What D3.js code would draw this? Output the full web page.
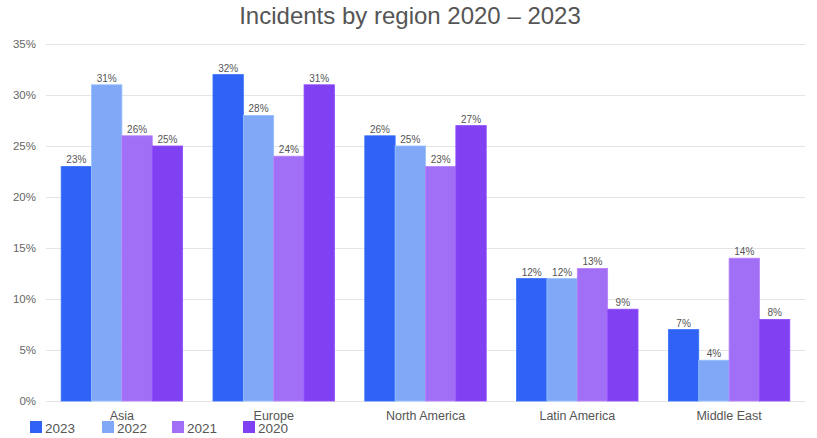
<!DOCTYPE html>
<html><head><meta charset="utf-8">
<script src="https://cdn.jsdelivr.net/npm/d3@7"></script>
<style>body{margin:0;background:#fff;}svg{display:block;font-family:"Liberation Sans",Arial,sans-serif;}</style>
</head><body>
<svg id="chart" width="817" height="438"></svg>
<script>
const regions = ["Asia", "Europe", "North America", "Latin America", "Middle East"];
const seriesNames = ["2023", "2022", "2021", "2020"];
const colors = ["#2f62f5", "#81a8f6", "#a06ff5", "#7f41f1"];
const v2023 = [23, 32, 26, 12, 7];
const v2022 = [31, 28, 25, 12, 4];
const v2021 = [26, 24, 23, 13, 14];
const v2020 = [25, 31, 27, 9, 8];
const yTicks = [0, 5, 10, 15, 20, 25, 30, 35];
const title = "Incidents by region 2020 \u2013 2023";

const series = [v2023, v2022, v2021, v2020];
const svg = d3.select("#chart");

const x0 = d3.scaleBand().domain(regions).range([46, 805]).paddingInner(0.2).paddingOuter(0.1);
const x1 = d3.scaleBand().domain(seriesNames).range([0, x0.bandwidth()]).padding(0);
const y = d3.scaleLinear().domain([0, 35]).range([401, 44]);

svg.append("text").attr("x", 410).attr("y", 24).attr("text-anchor", "middle")
  .attr("font-size", 24).attr("fill", "#555").text(title);

// grid
const yAxis = d3.axisLeft(y).tickValues(yTicks).tickFormat(d => d + "%").tickSize(-(805 - 46)).tickPadding(10);
const gy = svg.append("g").attr("transform", "translate(46,0)").call(yAxis);
gy.select(".domain").remove();
gy.selectAll(".tick line").attr("stroke", "#e4e4e4").attr("stroke-width", 1.2);
gy.selectAll(".tick text").attr("fill", "#666").attr("font-size", 11.5).attr("font-family", "Liberation Sans, Arial, sans-serif");

// bars
const groups = svg.append("g").selectAll("g").data(regions).join("g")
  .attr("transform", d => `translate(${x0(d)},0)`);
seriesNames.forEach((s, si) => {
  groups.append("rect")
    .attr("x", x1(s)).attr("width", x1.bandwidth())
    .attr("y", (d, i) => y(series[si][i]))
    .attr("height", (d, i) => y(0) - y(series[si][i]))
    .attr("fill", colors[si])
    .attr("stroke", d3.color(colors[si]).brighter(0.4))
    .attr("stroke-width", 0.8);
  groups.append("text")
    .attr("x", x1(s) + x1.bandwidth() / 2)
    .attr("y", (d, i) => y(series[si][i]) - 3)
    .attr("text-anchor", "middle").attr("font-size", 10).attr("fill", "#555")
    .text((d, i) => series[si][i] + "%");
});

// x axis labels
const xAxis = d3.axisBottom(x0).tickSize(0).tickPadding(10);
const gx = svg.append("g").attr("transform", "translate(0,401)").call(xAxis);
gx.select(".domain").remove();
gx.selectAll(".tick text").attr("fill", "#555").attr("font-size", 12.5).attr("font-family", "Liberation Sans, Arial, sans-serif");

// legend
const legendX = [30, 102, 172, 243];
const lg = svg.append("g").selectAll("g").data(seriesNames).join("g")
  .attr("transform", (d, i) => `translate(${legendX[i]},421)`);
lg.append("rect").attr("width", 12).attr("height", 12).attr("fill", (d, i) => colors[i]);
lg.append("text").attr("x", 15).attr("y", 11.5).attr("font-size", 13.5).attr("fill", "#555").text(d => d);
</script>
</body></html>
